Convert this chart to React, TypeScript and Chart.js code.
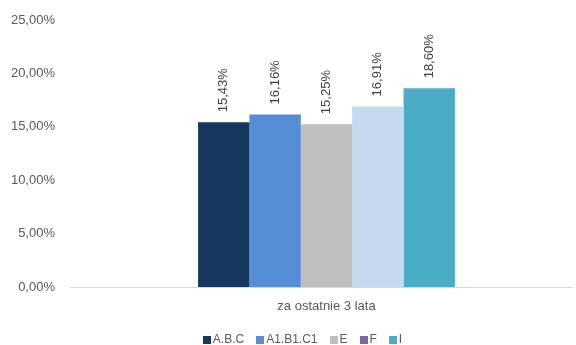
import React, { useEffect, useRef } from "react";
import { Chart, registerables } from "chart.js";

Chart.register(...registerables);

const categories = ["za ostatnie 3 lata"];
const seriesNames = ["A.B.C", "A1.B1.C1", "E", "F", "I"];
const seriesValues = [15.43, 16.16, 15.25, 16.91, 18.6];
const barColors = ["#17375E", "#558ED5", "#BFBFBF", "#C6D9F1", "#4BACC6"];
const legendColors = ["#17375E", "#558ED5", "#BFBFBF", "#8064A2", "#4BACC6"];
const yTicks = [0, 5, 10, 15, 20, 25];

const FONT = "'Liberation Sans', Arial, sans-serif";
const TEXT = "#595959";

const fmt = (v: number) => v.toFixed(2).replace(".", ",") + "%";

const labelPlugin = {
  id: "valueLabels",
  afterDatasetsDraw(chart: any) {
    const ctx = chart.ctx;
    ctx.save();
    ctx.font = `13px ${FONT}`;
    ctx.fillStyle = "#404040";
    ctx.textAlign = "left";
    ctx.textBaseline = "middle";
    chart.data.datasets.forEach((ds: any, i: number) => {
      const meta = chart.getDatasetMeta(i);
      meta.data.forEach((bar: any, j: number) => {
        ctx.save();
        ctx.translate(bar.x, bar.y - 10);
        ctx.rotate(-Math.PI / 2);
        ctx.fillText(fmt(ds.data[j]), 0, 0);
        ctx.restore();
      });
    });
    ctx.restore();
  },
};

const axisLinePlugin = {
  id: "axisLine",
  afterDatasetsDraw(chart: any) {
    const { ctx, chartArea } = chart;
    ctx.save();
    ctx.strokeStyle = "#D9D9D9";
    ctx.lineWidth = 1;
    ctx.beginPath();
    ctx.moveTo(chartArea.left - 10, Math.round(chartArea.bottom) + 0.5);
    ctx.lineTo(chartArea.right, Math.round(chartArea.bottom) + 0.5);
    ctx.stroke();
    ctx.restore();
  },
};

const legendPlugin = {
  id: "customLegend",
  afterDraw(chart: any) {
    const ctx = chart.ctx;
    const box = 8;
    const gapText = 2;
    const gapItem = 12;
    ctx.save();
    ctx.font = `12px ${FONT}`;
    ctx.textBaseline = "middle";
    ctx.textAlign = "left";
    const widths = seriesNames.map((n) => box + gapText + ctx.measureText(n).width);
    const total = widths.reduce((a, b) => a + b, 0) + gapItem * (widths.length - 1);
    const center = (chart.chartArea.left + chart.chartArea.right) / 2 - 24;
    let x = center - total / 2;
    const y = chart.height - 5;
    seriesNames.forEach((n, i) => {
      ctx.fillStyle = legendColors[i];
      ctx.fillRect(Math.round(x), Math.round(y - box / 2), box, box);
      ctx.fillStyle = TEXT;
      ctx.fillText(n, x + box + gapText, y);
      x += widths[i] + gapItem;
    });
    ctx.restore();
  },
};

export default function App() {
  const ref = useRef<HTMLCanvasElement>(null);
  useEffect(() => {
    document.body.style.margin = "0";
    const chart = new Chart(ref.current!, {
      type: "bar",
      data: {
        labels: categories,
        datasets: seriesNames.map((name, i) => ({
          label: name,
          data: [seriesValues[i]],
          backgroundColor: barColors[i],
          borderWidth: 0,
          categoryPercentage: 0.521,
          barPercentage: 1,
        })),
      },
      options: {
        animation: false,
        responsive: false,
        maintainAspectRatio: false,
        layout: { padding: { top: 20, right: 3, left: 0, bottom: 22 } },
        plugins: {
          tooltip: { enabled: false },
          legend: { display: false },
        },
        scales: {
          x: {
            grid: { display: false, drawTicks: false },
            border: { display: false },
            ticks: { color: TEXT, font: { family: FONT, size: 13 }, padding: 12 },
            afterFit: (s: any) => {
              s.height = 36;
            },
          },
          y: {
            min: 0,
            max: 25,
            afterBuildTicks: (s: any) => {
              s.ticks = yTicks.map((v) => ({ value: v }));
            },
            grid: { display: false, drawTicks: false },
            border: { display: false },
            ticks: {
              color: TEXT,
              font: { family: FONT, size: 13 },
              padding: 25,
              callback: (v: any) => fmt(Number(v)),
            },
            afterFit: (s: any) => {
              s.width = 80;
              s.paddingTop = 0;
              s.paddingBottom = 0;
            },
          },
        },
      },
      plugins: [labelPlugin, axisLinePlugin, legendPlugin],
    });
    return () => chart.destroy();
  }, []);
  return (
    <div style={{ width: 576, height: 345, background: "#fff" }}>
      <canvas ref={ref} width={576} height={345} style={{ display: "block" }} />
    </div>
  );
}
